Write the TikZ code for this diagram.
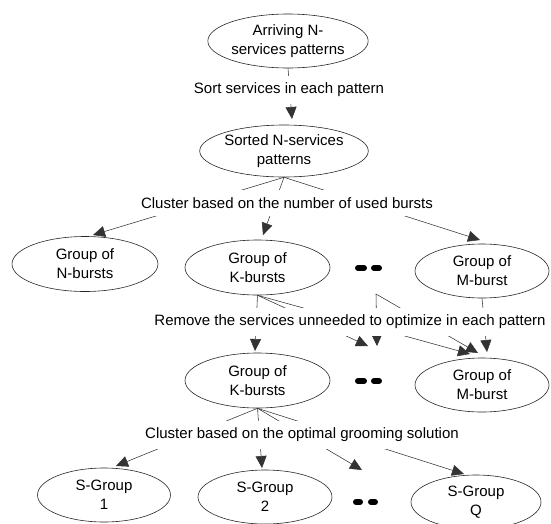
\documentclass[tikz,border=0pt]{standalone}
\usepackage{fontspec}
\setmainfont{Liberation Sans}
\usetikzlibrary{shapes.geometric,arrows.meta}
\begin{document}
\begin{tikzpicture}[x=1pt,y=-1pt,
  ell/.style={draw=black!85, line width=0.6pt, ellipse, inner sep=0pt, align=center,
    font=\fontsize{15}{19}\selectfont},
  lbl/.style={fill=white, inner xsep=2pt, inner ysep=7pt, font=\fontsize{15}{18}\selectfont},
  conn/.style={draw=black!80, line width=0.55pt, -{Triangle[length=12pt,width=11pt]}},
  dotdash/.style={line width=6pt, line cap=round, black}
]
\useasboundingbox (0,0) rectangle (551,523);

% ellipses
\node[ell, minimum width=142pt, minimum height=54pt] (A) at (288,41) {Arriving N-\\services patterns};
\node[ell, minimum width=132pt, minimum height=52pt] (B) at (284,151) {Sorted N-services\\patterns};
\node[ell, minimum width=146pt, minimum height=55pt] (N) at (85,264) {Group of\\N-bursts};
\node[ell, minimum width=145pt, minimum height=55pt] (K) at (257.5,267.5) {Group of\\K-bursts};
\node[ell, minimum width=134pt, minimum height=54pt] (M) at (482,271) {Group of\\M-burst};
\node[ell, minimum width=145pt, minimum height=55pt] (K2) at (257.5,380.5) {Group of\\K-bursts};
\node[ell, minimum width=134pt, minimum height=54pt] (M2) at (482,385) {Group of\\M-burst};
\node[ell, minimum width=133pt, minimum height=54pt] (S1) at (104,495) {S-Group\\1};
\node[ell, minimum width=134pt, minimum height=54pt] (S2) at (265,497) {S-Group\\2};
\node[ell, minimum width=130pt, minimum height=54pt] (SQ) at (476,502) {S-Group\\Q};

% dots
\draw[dotdash] (358,268) -- (364,268);
\draw[dotdash] (374,268) -- (379,268);
\draw[dotdash] (358,381) -- (364,381);
\draw[dotdash] (374,381) -- (379,381);
\draw[dotdash] (356,502) -- (360,502);
\draw[dotdash] (371,502) -- (375,502);

% free ends
\coordinate (tB) at (292,119);
\coordinate (tN) at (93,235);
\coordinate (tK) at (263,235);
\coordinate (tM) at (480,240);
\coordinate (cD1) at (376,294);
\coordinate (tK2) at (255,351);
\coordinate (tD2a) at (368,346);
\coordinate (tD2b) at (377,346);
\coordinate (tM2a) at (470,354);
\coordinate (tM2b) at (478,353);
\coordinate (tM2c) at (487,352);
\coordinate (tS1) at (116,466);
\coordinate (tS2) at (262,468);
\coordinate (tD3) at (362,470);
\coordinate (tSQ) at (464,474);

% connectors
\draw[conn] (A.south) -- (tB);
\draw[conn] (B.south) -- (tN);
\draw[conn] (B.south) -- (tK);
\draw[conn] (B.south) -- (tM);
\draw[conn] (K.south) -- (tK2);
\draw[conn] (K.south) -- (tD2a);
\draw[conn] (K.south) -- (tM2a);
\draw[conn] (cD1) -- (tD2b);
\draw[conn] (cD1) -- (tM2b);
\draw[conn] (M.south) -- (tM2c);
\draw[conn] (K2.south) -- (tS1);
\draw[conn] (K2.south) -- (tS2);
\draw[conn] (K2.south) -- (tD3);
\draw[conn] (K2.south) -- (tSQ);

% labels
\node[lbl] (L1) at (289,90) {Sort services in each pattern};
\node[lbl] (L2) at (287,203) {Cluster based on the number of used bursts};
\node[lbl] (L3) at (350,322) {Remove the services unneeded to optimize in each pattern};
\node[lbl] (L4) at (302,435) {Cluster based on the optimal grooming solution};
\end{tikzpicture}
\end{document}
